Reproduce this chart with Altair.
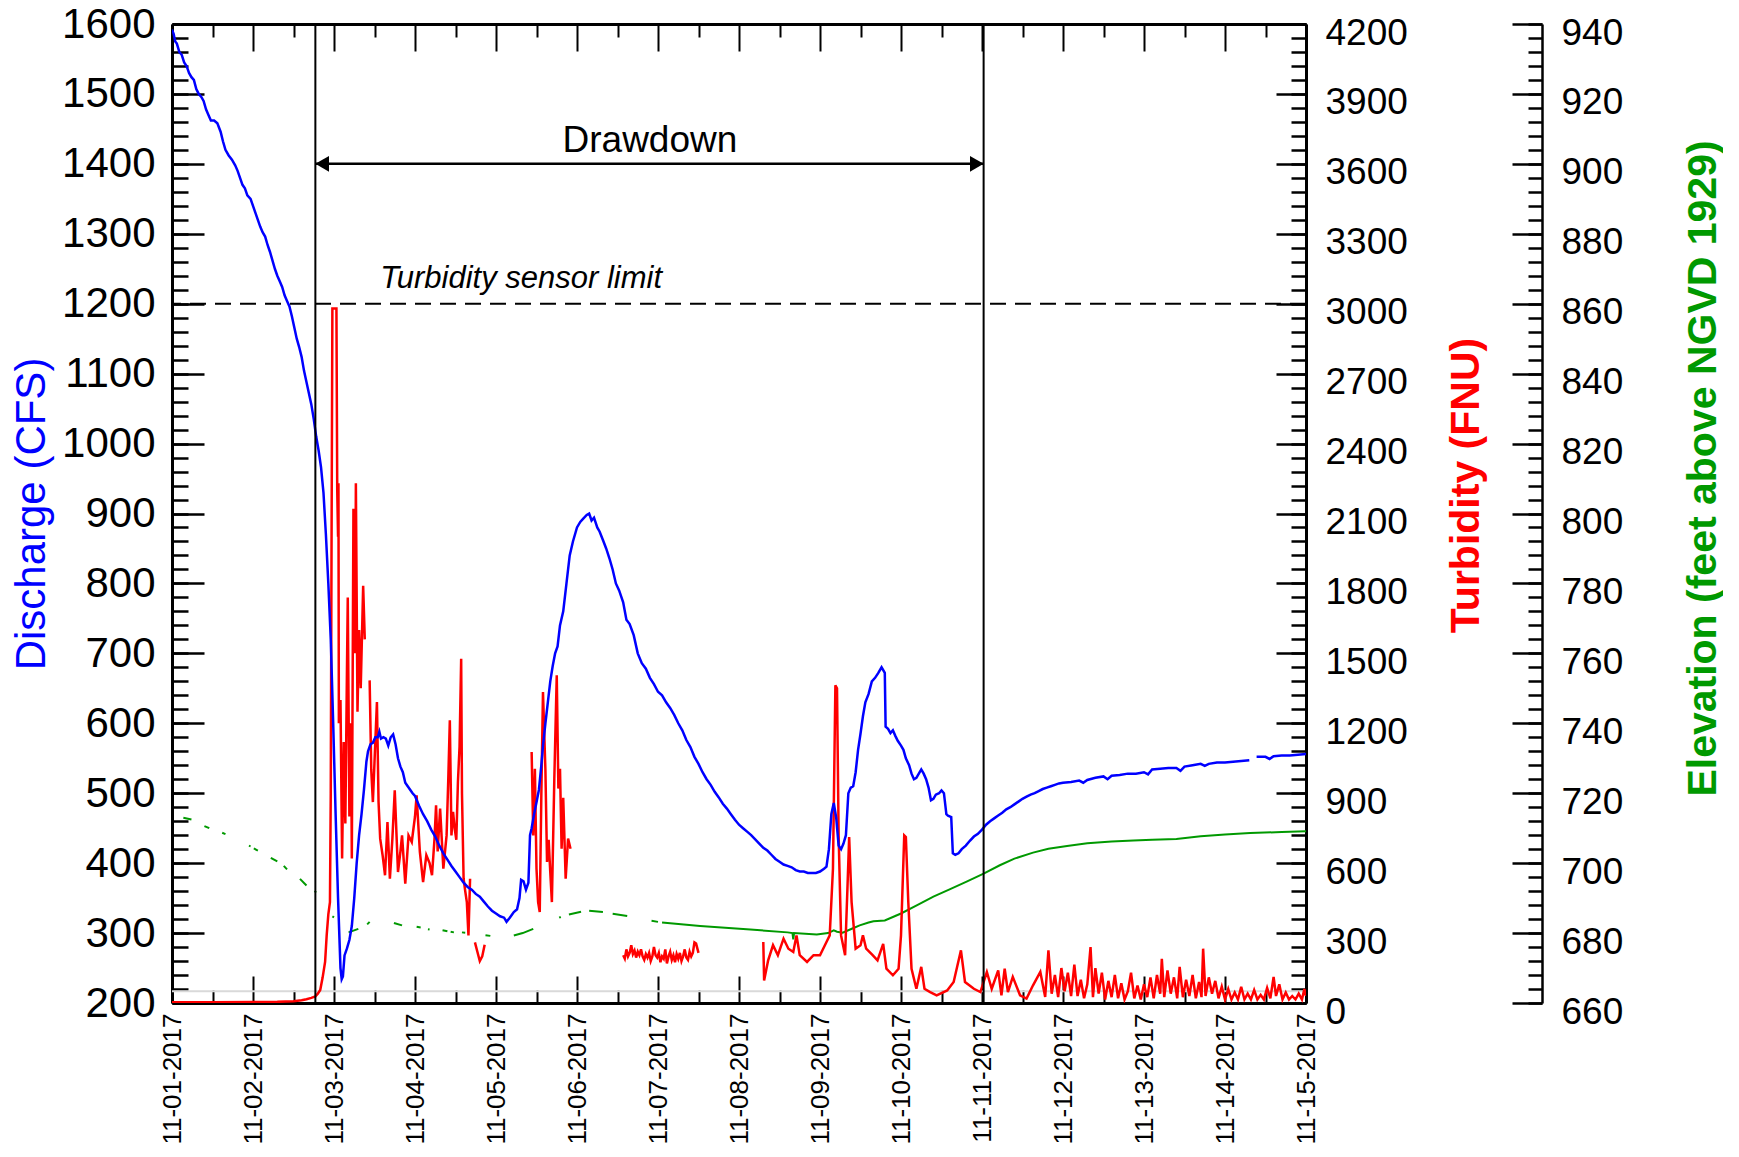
import json
import altair as alt
import pandas as pd

FONT = "Liberation Sans"
BLUE = "#0000ff"
RED = "#ff0000"
GREEN = "#009900"

W, H = 1134, 979
ELEV_OFFSET = 236

# ---------------- axes / ticks ----------------
date_labels = ["11-01-2017", "11-02-2017", "11-03-2017", "11-04-2017", "11-05-2017",
               "11-06-2017", "11-07-2017", "11-08-2017", "11-09-2017", "11-10-2017",
               "11-11-2017", "11-12-2017", "11-13-2017", "11-14-2017", "11-15-2017"]
day_ticks = list(range(15))
half_day_ticks = [d + 0.5 for d in range(14)]

X_DOMAIN = [0, 14]
Q_DOMAIN = [200, 1600]
T_DOMAIN = [0, 4200]
E_DOMAIN = [660, 940]

discharge_ticks = list(range(200, 1601, 100))
discharge_minor = list(range(200, 1601, 20))
turbidity_ticks = list(range(0, 4201, 300))
turbidity_minor = list(range(0, 4201, 60))
elevation_ticks = list(range(660, 941, 20))
elevation_minor = list(range(660, 941, 4))

# ---------------- annotations ----------------
drawdown_start = 1.77
drawdown_end = 10.02
drawdown_arrow_cfs = 1400
drawdown_label = "Drawdown"
drawdown_label_pos = [5.9, 1432]
sensor_limit_fnu = 3000
sensor_label = "Turbidity sensor limit"
sensor_label_pos = [4.31, 1236]
reference_fnu = 50

# ---------------- discharge (CFS), [day, value] per segment ----------------
discharge_seg1 = [
    [0.00, 1592], [0.02, 1586], [0.04, 1575], [0.06, 1572], [0.09, 1560], [0.12, 1556],
    [0.15, 1545], [0.18, 1540], [0.21, 1530], [0.24, 1524], [0.27, 1520], [0.30, 1507],
    [0.33, 1500], [0.36, 1496], [0.39, 1490], [0.42, 1478], [0.45, 1470], [0.48, 1462],
    [0.52, 1462], [0.56, 1458], [0.60, 1446], [0.63, 1432], [0.66, 1420], [0.70, 1412],
    [0.74, 1406], [0.78, 1398], [0.81, 1390], [0.84, 1380], [0.87, 1370], [0.90, 1365],
    [0.93, 1355], [0.97, 1350], [1.00, 1340], [1.03, 1330], [1.06, 1320], [1.09, 1310],
    [1.12, 1302], [1.15, 1296], [1.18, 1284], [1.21, 1274], [1.24, 1262], [1.27, 1250],
    [1.30, 1240], [1.33, 1232], [1.36, 1224], [1.39, 1212], [1.42, 1204], [1.45, 1196],
    [1.48, 1182], [1.51, 1166], [1.54, 1150], [1.57, 1138], [1.60, 1124], [1.63, 1104],
    [1.66, 1088], [1.69, 1072], [1.72, 1056], [1.75, 1035], [1.78, 1010], [1.81, 990],
    [1.84, 966], [1.87, 930], [1.90, 870], [1.93, 800], [1.96, 720], [1.99, 600],
    [2.02, 470], [2.05, 350], [2.08, 250], [2.095, 234], [2.11, 238], [2.13, 268],
    [2.16, 278], [2.19, 290], [2.22, 310], [2.25, 350], [2.28, 400], [2.31, 440],
    [2.34, 470], [2.37, 505], [2.40, 545], [2.42, 560], [2.45, 570], [2.48, 572],
    [2.51, 580], [2.54, 580], [2.56, 588], [2.58, 578], [2.61, 580], [2.64, 578],
    [2.67, 568], [2.70, 580], [2.73, 584], [2.76, 570], [2.79, 550], [2.82, 538],
    [2.85, 530], [2.88, 515], [2.91, 510], [2.94, 505], [2.97, 500], [3.00, 496],
    [3.05, 482], [3.10, 470], [3.15, 460], [3.20, 448], [3.25, 438], [3.30, 425],
    [3.35, 414], [3.40, 405], [3.45, 396], [3.50, 388], [3.55, 380], [3.60, 372],
    [3.65, 366], [3.70, 362], [3.75, 356], [3.80, 352], [3.85, 345], [3.90, 338],
    [3.95, 332], [4.00, 328], [4.05, 324], [4.10, 322], [4.13, 316], [4.17, 322],
    [4.22, 330], [4.26, 334], [4.29, 350], [4.31, 376], [4.34, 374], [4.37, 362],
    [4.40, 372], [4.42, 440], [4.44, 450], [4.47, 470], [4.50, 487], [4.53, 505],
    [4.56, 540], [4.58, 568], [4.61, 600], [4.64, 630], [4.67, 660], [4.70, 682],
    [4.73, 700], [4.76, 710], [4.79, 740], [4.83, 760], [4.87, 800], [4.91, 840],
    [4.95, 860], [5.00, 880], [5.04, 888], [5.08, 893], [5.12, 898], [5.15, 900],
    [5.18, 890], [5.21, 894], [5.25, 880], [5.28, 874], [5.32, 862], [5.36, 850],
    [5.40, 836], [5.44, 820], [5.48, 800], [5.52, 790], [5.57, 773], [5.61, 748],
    [5.65, 742], [5.70, 726], [5.75, 700], [5.80, 686], [5.85, 678], [5.90, 665],
    [5.95, 656], [6.00, 645], [6.05, 640], [6.10, 630], [6.15, 622], [6.20, 612],
    [6.25, 600], [6.30, 590], [6.35, 576], [6.40, 566], [6.45, 552], [6.50, 542],
    [6.55, 530], [6.60, 520], [6.65, 512], [6.70, 502], [6.75, 494], [6.80, 485],
    [6.85, 478], [6.90, 470], [6.95, 462], [7.00, 455], [7.05, 450], [7.10, 445],
    [7.15, 440], [7.20, 434], [7.25, 428], [7.30, 422], [7.35, 418], [7.40, 412],
    [7.45, 406], [7.50, 402], [7.55, 398], [7.60, 396], [7.65, 394], [7.70, 390],
    [7.75, 388], [7.80, 388], [7.85, 386], [7.90, 386], [7.95, 386], [8.00, 388],
    [8.05, 392], [8.08, 395], [8.11, 420], [8.14, 470], [8.17, 486], [8.20, 465],
    [8.23, 425], [8.26, 420], [8.29, 428], [8.32, 440], [8.35, 500], [8.38, 508],
    [8.41, 510], [8.44, 530], [8.47, 562], [8.50, 585], [8.53, 610], [8.56, 630],
    [8.60, 642], [8.64, 660], [8.68, 665], [8.72, 672], [8.76, 680], [8.80, 672],
    [8.81, 595], [8.84, 592], [8.87, 586], [8.90, 590], [8.93, 582], [8.96, 575],
    [9.00, 568], [9.03, 562], [9.06, 550], [9.10, 540], [9.13, 528], [9.16, 520],
    [9.19, 522], [9.22, 528], [9.25, 534], [9.28, 528], [9.31, 520], [9.34, 508],
    [9.37, 490], [9.40, 492], [9.43, 498], [9.47, 500], [9.50, 504], [9.53, 500],
    [9.56, 470], [9.58, 468], [9.62, 466], [9.64, 414], [9.67, 412], [9.71, 414],
    [9.75, 420], [9.80, 425], [9.85, 432], [9.90, 438], [9.95, 442], [10.00, 448],
    [10.05, 455], [10.10, 460], [10.15, 464], [10.20, 468], [10.25, 472], [10.30, 477],
    [10.35, 480], [10.40, 484], [10.45, 488], [10.50, 492], [10.55, 495], [10.60, 498],
    [10.65, 500], [10.70, 503], [10.75, 506], [10.80, 508], [10.85, 510], [10.90, 512],
    [10.95, 514], [11.00, 515], [11.10, 516], [11.20, 518], [11.25, 515], [11.30, 519],
    [11.40, 522], [11.50, 524], [11.55, 520], [11.60, 525], [11.70, 526], [11.80, 528],
    [11.90, 528], [12.00, 530], [12.05, 527], [12.10, 534], [12.20, 535], [12.30, 536],
    [12.40, 536], [12.45, 532], [12.50, 538], [12.60, 540], [12.70, 542], [12.75, 539],
    [12.80, 542], [12.90, 544], [13.00, 544], [13.10, 545], [13.20, 546], [13.30, 547]]
discharge_seg2 = [[13.39, 552], [13.50, 552], [13.55, 549], [13.60, 553], [13.70, 554],
                  [13.80, 554], [13.90, 555], [14.00, 556]]

# ---------------- turbidity (FNU) ----------------
turbidity_seg1 = [
    [0.00, 3], [0.50, 3], [1.00, 4], [1.30, 5], [1.50, 8], [1.60, 12], [1.66, 16],
    [1.72, 22], [1.77, 28], [1.80, 40], [1.83, 56], [1.86, 110], [1.89, 176], [1.91, 292],
    [1.93, 380], [1.95, 433], [1.96, 900], [1.97, 2000], [1.98, 2980], [2.03, 2980],
    [2.04, 2200], [2.05, 2000], [2.055, 2230], [2.06, 1200], [2.08, 1300], [2.10, 620],
    [2.12, 1120], [2.14, 770], [2.16, 1430], [2.17, 1740], [2.19, 800], [2.21, 1200],
    [2.22, 620], [2.24, 2120], [2.26, 1500], [2.27, 2230], [2.29, 1250], [2.31, 1600],
    [2.33, 1350], [2.36, 1790], [2.38, 1560]]
turbidity_seg2 = [
    [2.44, 1384], [2.46, 1000], [2.48, 862], [2.51, 1120], [2.53, 1291], [2.55, 862],
    [2.57, 705], [2.60, 634], [2.63, 548], [2.66, 776], [2.69, 533], [2.72, 700],
    [2.75, 912], [2.79, 562], [2.82, 650], [2.84, 719], [2.88, 512], [2.92, 719],
    [2.96, 691], [3.00, 800], [3.02, 891], [3.06, 648], [3.10, 519], [3.14, 634],
    [3.18, 600], [3.21, 548], [3.24, 700], [3.26, 848], [3.28, 650], [3.31, 834],
    [3.35, 576], [3.39, 719], [3.41, 950], [3.43, 1213], [3.45, 719], [3.47, 820],
    [3.49, 748], [3.51, 700], [3.53, 948], [3.55, 1100], [3.57, 1477], [3.58, 900],
    [3.60, 533], [3.62, 480], [3.64, 433], [3.66, 290], [3.68, 533]]
turbidity_seg3 = [[3.74, 260], [3.77, 220], [3.80, 180], [3.83, 200], [3.86, 250]]
turbidity_seg4 = [
    [4.44, 1077], [4.46, 719], [4.48, 1005], [4.50, 576], [4.52, 433], [4.54, 390],
    [4.56, 900], [4.58, 1334], [4.61, 1000], [4.63, 605], [4.65, 700], [4.67, 562],
    [4.69, 433], [4.72, 962], [4.75, 1406], [4.77, 920], [4.79, 1005], [4.81, 662],
    [4.83, 880], [4.86, 533], [4.89, 705], [4.92, 662]]
turbidity_seg5 = [
    [5.57, 205], [5.59, 190], [5.61, 230], [5.63, 200], [5.65, 215], [5.67, 248],
    [5.69, 210], [5.71, 225], [5.73, 195], [5.75, 220], [5.77, 205], [5.79, 230],
    [5.81, 200], [5.83, 185], [5.85, 210], [5.87, 195], [5.89, 215], [5.91, 180],
    [5.93, 200], [5.95, 240], [5.97, 205], [5.99, 195], [6.01, 215], [6.03, 175],
    [6.05, 200], [6.07, 190], [6.09, 230], [6.11, 170], [6.13, 200], [6.15, 220],
    [6.17, 185], [6.19, 205], [6.21, 175], [6.23, 210], [6.25, 190], [6.27, 215],
    [6.29, 180], [6.31, 200], [6.33, 230], [6.35, 195], [6.37, 185], [6.39, 220],
    [6.41, 200], [6.43, 215], [6.45, 260], [6.47, 255], [6.50, 215]]
turbidity_seg6 = [
    [7.30, 262], [7.31, 97], [7.36, 183], [7.42, 248], [7.48, 205], [7.55, 276],
    [7.61, 233], [7.67, 219], [7.71, 290], [7.75, 205], [7.84, 176], [7.92, 205],
    [8.00, 205], [8.08, 262], [8.12, 290], [8.16, 576], [8.19, 1363], [8.21, 1350],
    [8.23, 719], [8.26, 290], [8.31, 205], [8.34, 505], [8.36, 712], [8.39, 433],
    [8.44, 233], [8.50, 248], [8.53, 290], [8.57, 233], [8.65, 205], [8.71, 183],
    [8.78, 254], [8.82, 147], [8.90, 119], [8.97, 147], [9.00, 290], [9.04, 719],
    [9.06, 712], [9.09, 433], [9.13, 147], [9.19, 61], [9.25, 155], [9.29, 61],
    [9.36, 47], [9.44, 33], [9.57, 54], [9.65, 90], [9.74, 226], [9.79, 90],
    [9.90, 61], [9.98, 47], [10.06, 133], [10.12, 61], [10.20, 140], [10.24, 33],
    [10.28, 147], [10.32, 47], [10.38, 112], [10.47, 33], [10.55, 19], [10.63, 76],
    [10.72, 133], [10.78, 26], [10.82, 226], [10.86, 40], [10.90, 120], [10.94, 25],
    [10.98, 150], [11.02, 50], [11.06, 130], [11.10, 30], [11.14, 165], [11.18, 30],
    [11.22, 100], [11.26, 20], [11.30, 80], [11.34, 240], [11.37, 25], [11.40, 150],
    [11.44, 40], [11.48, 130], [11.52, 15], [11.56, 95], [11.60, 25], [11.64, 120],
    [11.68, 20], [11.72, 85], [11.76, 15], [11.80, 50], [11.84, 130], [11.88, 20],
    [11.92, 75], [11.96, 15], [12.00, 80], [12.04, 25], [12.08, 110], [12.12, 20],
    [12.16, 120], [12.20, 40], [12.22, 190], [12.25, 25], [12.29, 140], [12.33, 40],
    [12.37, 110], [12.41, 20], [12.44, 155], [12.48, 25], [12.52, 100], [12.56, 30],
    [12.60, 120], [12.64, 20], [12.68, 90], [12.71, 25], [12.73, 233], [12.76, 30],
    [12.80, 110], [12.84, 40], [12.88, 95], [12.92, 20], [12.96, 70], [13.00, 15],
    [13.04, 60], [13.08, 15], [13.12, 45], [13.16, 15], [13.20, 70], [13.24, 15],
    [13.28, 40], [13.32, 15], [13.36, 55], [13.40, 15], [13.44, 35], [13.48, 15],
    [13.52, 65], [13.56, 20], [13.60, 112], [13.63, 30], [13.67, 80], [13.71, 15],
    [13.75, 45], [13.79, 15], [13.83, 30], [13.87, 15], [13.91, 40], [13.95, 15],
    [13.98, 60], [14.00, 30]]

# ---------------- elevation (feet above NGVD 1929) ----------------
elevation_segments = [
    [[0.14, 713.0], [0.24, 712.5]],
    [[0.40, 710.6], [0.46, 710.0]],
    [[0.62, 708.7], [0.66, 708.3]],
    [[0.95, 705.0], [0.97, 704.8]],
    [[1.01, 704.2], [1.06, 703.6]],
    [[1.22, 701.5], [1.30, 700.5]],
    [[1.38, 699.2], [1.42, 698.2]],
    [[1.58, 695.5], [1.66, 693.6]],
    [[1.76, 692.0], [1.78, 691.6]],
    [[1.98, 684.8], [2.00, 684.5]],
    [[2.18, 680.2], [2.30, 681.2]],
    [[2.41, 682.5], [2.44, 683.2]],
    [[2.74, 682.9], [2.84, 682.2]],
    [[3.02, 681.8], [3.07, 681.6]],
    [[3.16, 681.1], [3.18, 681.0]],
    [[3.34, 680.8], [3.40, 680.5]],
    [[3.44, 680.4], [3.48, 680.2]],
    [[3.58, 680.2], [3.62, 680.1]],
    [[3.87, 679.4], [3.93, 679.2]],
    [[4.22, 679.3], [4.33, 680.0], [4.46, 681.2]],
    [[4.78, 684.4], [4.80, 684.6]],
    [[4.90, 685.3], [5.05, 686.1]],
    [[5.15, 686.4], [5.32, 686.0]],
    [[5.44, 685.5], [5.62, 684.9]],
    [[5.92, 683.5], [6.00, 683.2]],
    [[6.05, 683.0], [6.52, 682.0], [7.14, 681.0], [7.60, 680.2], [7.66, 680.0],
     [7.67, 678.2], [7.68, 680.0], [7.96, 679.6], [8.10, 680.0], [8.17, 680.8],
     [8.21, 680.4], [8.28, 680.1], [8.40, 681.3], [8.49, 682.2], [8.60, 683.0],
     [8.66, 683.4], [8.80, 683.6], [8.90, 684.6], [9.00, 685.6], [9.20, 688.0],
     [9.40, 690.4], [9.60, 692.5], [9.81, 694.7], [10.02, 697.0], [10.22, 699.4],
     [10.40, 701.3], [10.63, 703.0], [10.82, 704.1], [11.05, 704.9], [11.30, 705.7],
     [11.60, 706.2], [11.87, 706.5], [12.10, 706.7], [12.40, 706.9], [12.70, 707.7],
     [13.00, 708.2], [13.31, 708.6], [13.70, 708.9], [14.00, 709.1]],
]


def seg_frame(segments):
    rows = []
    for i, seg in enumerate(segments):
        for d, v in seg:
            rows.append({"day": d, "value": v, "seg": i})
    return pd.DataFrame(rows)


def xs():
    return alt.Scale(domain=X_DOMAIN, nice=False, zero=False)


def ys(dom):
    return alt.Scale(domain=dom, nice=False, zero=False)


def tick_axis(orient, offset, values, size, width=2, domain=False, domain_width=2):
    return alt.Axis(orient=orient, offset=offset, values=values, tickSize=size,
                    tickWidth=width, tickColor="black", labels=False, domain=domain,
                    domainWidth=domain_width, domainColor="black", title=None, grid=False)


def axis_layer(y_domain, y_axis, x_axis=None):
    df = pd.DataFrame({"day": X_DOMAIN, "value": y_domain})
    return alt.Chart(df).mark_point(opacity=0).encode(
        x=alt.X("day:Q", scale=xs(), axis=x_axis),
        y=alt.Y("value:Q", scale=ys(y_domain), axis=y_axis),
    )


# ---------------- axis definitions ----------------
x_label_axis = alt.Axis(
    orient="bottom", values=day_ticks, labelExpr=json.dumps(date_labels) + "[round(datum.value)]",
    labelAngle=270, labelFontSize=26, labelPadding=10, tickSize=0, domain=True, domainWidth=3,
    domainColor="black", labelFlush=False, labelOverlap=False, labelColor="black", title=None, grid=False)

q_label_axis = alt.Axis(
    orient="left", values=discharge_ticks, format="d", tickSize=0, labelPadding=17,
    labelFontSize=42, labelColor="black", domain=True, domainWidth=3, domainColor="black",
    labelOverlap=False, grid=False,
    title="Discharge (CFS)", titleFontSize=42, titleFontWeight="normal", titleColor=BLUE,
    titleAngle=270, titleX=-141, titleY=H / 2, titleAlign="center", titleBaseline="middle")

t_label_axis = alt.Axis(
    orient="right", values=turbidity_ticks, format="d", tickSize=0, labelPadding=19,
    labelOffset=9, labelFontSize=37, labelColor="black", domain=True, domainWidth=3,
    domainColor="black", labelOverlap=False, grid=False,
    title="Turbidity (FNU)", titleFontSize=41, titleFontWeight="bold", titleColor=RED,
    titleAngle=270, titleX=160, titleY=461, titleAlign="center", titleBaseline="middle")

e_label_axis = alt.Axis(
    orient="right", offset=ELEV_OFFSET, values=elevation_ticks, format="d", tickSize=0,
    labelPadding=19, labelOffset=9, labelFontSize=37, labelColor="black", domain=False,
    labelOverlap=False, grid=False,
    title="Elevation (feet above NGVD 1929)", titleFontSize=41, titleFontWeight="bold",
    titleColor=GREEN, titleAngle=270, titleX=161, titleY=444, titleAlign="center",
    titleBaseline="middle")

layers = [
    # axes with labels and frame
    axis_layer(Q_DOMAIN, q_label_axis, x_label_axis),
    # inward ticks: discharge (left edge) + bottom x ticks
    axis_layer(Q_DOMAIN, tick_axis("right", -W, discharge_ticks, 32, 2.5),
               tick_axis("top", -H, day_ticks, 27)),
    axis_layer(Q_DOMAIN, tick_axis("right", -W, discharge_minor, 16, 2.5),
               tick_axis("top", -H, half_day_ticks, 13)),
    # turbidity labels + top frame with ticks
    axis_layer(T_DOMAIN, t_label_axis,
               tick_axis("bottom", -H, day_ticks, 27, domain=True, domain_width=3)),
    axis_layer(T_DOMAIN, tick_axis("left", -W, turbidity_ticks, 30, 2.5),
               tick_axis("bottom", -H, half_day_ticks, 13)),
    axis_layer(T_DOMAIN, tick_axis("left", -W, turbidity_minor, 15, 2.5)),
    # elevation axis
    axis_layer(E_DOMAIN, e_label_axis),
    axis_layer(E_DOMAIN, tick_axis("left", -(W + ELEV_OFFSET), elevation_ticks, 30, 2.5,
                                   domain=True, domain_width=2.5)),
    axis_layer(E_DOMAIN, tick_axis("left", -(W + ELEV_OFFSET), elevation_minor, 14, 2.5)),
]

# reference gray line (turbidity)
ref_df = pd.DataFrame({"value": [reference_fnu]})
layers.append(alt.Chart(ref_df).mark_rule(color="#d9d9d9", strokeWidth=2).encode(
    y=alt.Y("value:Q", scale=ys(T_DOMAIN), axis=None)))

# data series
elev_df = seg_frame(elevation_segments)
layers.append(alt.Chart(elev_df).mark_line(color=GREEN, strokeWidth=2, clip=True).encode(
    x=alt.X("day:Q", scale=xs(), axis=None),
    y=alt.Y("value:Q", scale=ys(E_DOMAIN), axis=None),
    detail="seg:N"))

turb_df = seg_frame([turbidity_seg1, turbidity_seg2, turbidity_seg3, turbidity_seg4,
                     turbidity_seg5, turbidity_seg6])
layers.append(alt.Chart(turb_df).mark_line(color=RED, strokeWidth=2.5, clip=True).encode(
    x=alt.X("day:Q", scale=xs(), axis=None),
    y=alt.Y("value:Q", scale=ys(T_DOMAIN), axis=None),
    detail="seg:N"))

q_df = seg_frame([discharge_seg1, discharge_seg2])
layers.append(alt.Chart(q_df).mark_line(color=BLUE, strokeWidth=2.5, clip=True).encode(
    x=alt.X("day:Q", scale=xs(), axis=None),
    y=alt.Y("value:Q", scale=ys(Q_DOMAIN), axis=None),
    detail="seg:N"))

# sensor limit dashed line
lim_df = pd.DataFrame({"value": [sensor_limit_fnu]})
layers.append(alt.Chart(lim_df).mark_rule(color="black", strokeWidth=2, strokeDash=[16, 9]).encode(
    y=alt.Y("value:Q", scale=ys(T_DOMAIN), axis=None)))

# vertical drawdown lines
vl_df = pd.DataFrame({"day": [drawdown_start, drawdown_end]})
layers.append(alt.Chart(vl_df).mark_rule(color="black", strokeWidth=2).encode(
    x=alt.X("day:Q", scale=xs(), axis=None)))

# drawdown arrow
arr_df = pd.DataFrame({"d1": [drawdown_start], "d2": [drawdown_end], "value": [drawdown_arrow_cfs]})
layers.append(alt.Chart(arr_df).mark_rule(color="black", strokeWidth=2.5).encode(
    x=alt.X("d1:Q", scale=xs(), axis=None), x2="d2:Q",
    y=alt.Y("value:Q", scale=ys(Q_DOMAIN), axis=None)))
head_l = pd.DataFrame({"day": [drawdown_start], "value": [drawdown_arrow_cfs]})
head_r = pd.DataFrame({"day": [drawdown_end], "value": [drawdown_arrow_cfs]})
layers.append(alt.Chart(head_l).mark_point(shape="triangle-left", filled=True, size=250,
                                           opacity=1, color="black", xOffset=6.8).encode(
    x=alt.X("day:Q", scale=xs(), axis=None),
    y=alt.Y("value:Q", scale=ys(Q_DOMAIN), axis=None)))
layers.append(alt.Chart(head_r).mark_point(shape="triangle-right", filled=True, size=250,
                                           opacity=1, color="black", xOffset=-6.8).encode(
    x=alt.X("day:Q", scale=xs(), axis=None),
    y=alt.Y("value:Q", scale=ys(Q_DOMAIN), axis=None)))

# texts
txt1 = pd.DataFrame({"day": [drawdown_label_pos[0]], "value": [drawdown_label_pos[1]],
                     "label": [drawdown_label]})
layers.append(alt.Chart(txt1).mark_text(fontSize=37, font=FONT, color="black",
                                        align="center", baseline="middle").encode(
    x=alt.X("day:Q", scale=xs(), axis=None),
    y=alt.Y("value:Q", scale=ys(Q_DOMAIN), axis=None),
    text="label:N"))
txt2 = pd.DataFrame({"day": [sensor_label_pos[0]], "value": [sensor_label_pos[1]],
                     "label": [sensor_label]})
layers.append(alt.Chart(txt2).mark_text(fontSize=31, font=FONT, fontStyle="italic", color="black",
                                        align="center", baseline="middle").encode(
    x=alt.X("day:Q", scale=xs(), axis=None),
    y=alt.Y("value:Q", scale=ys(Q_DOMAIN), axis=None),
    text="label:N"))

chart = alt.layer(*layers).resolve_scale(
    x="independent", y="independent"
).properties(
    width=W, height=H,
    padding={"left": 2, "top": -5, "right": 0, "bottom": 0},
).configure_view(stroke=None).configure_axis(
    grid=False, labelFont=FONT, titleFont=FONT
)

chart.save("out.html", embed_options={"renderer": "svg", "actions": False})
